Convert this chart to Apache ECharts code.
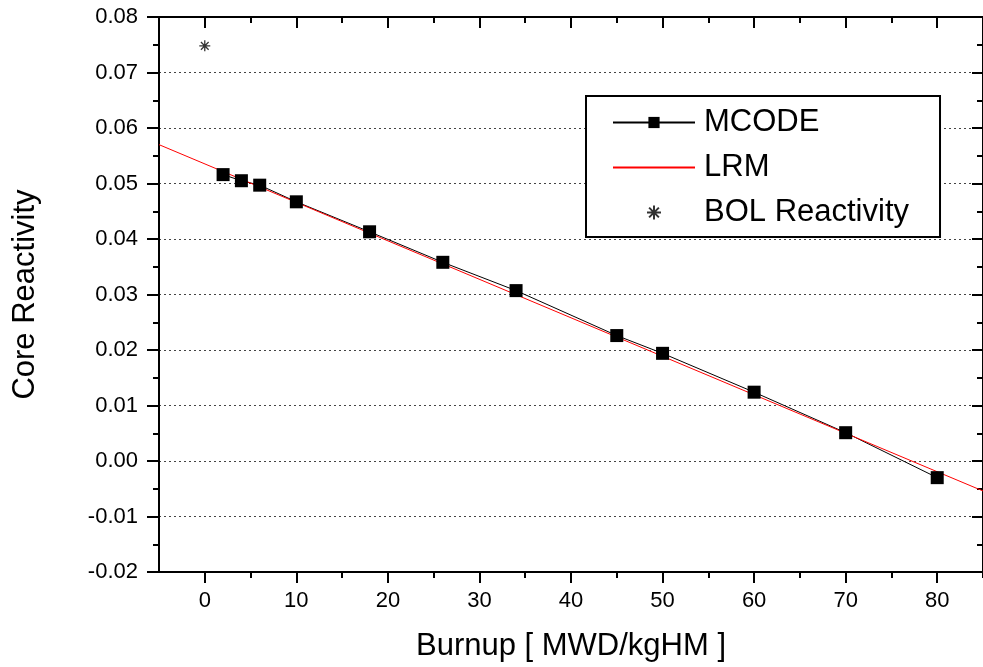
<!DOCTYPE html>
<html><head><meta charset="utf-8">
<script src="https://cdn.jsdelivr.net/npm/echarts@6/dist/echarts.min.js"></script>
<style>html,body{margin:0;padding:0;background:#fff}#c{width:983px;height:667px}</style>
</head><body><div id="c"></div>
<script>
var burnup = [2, 4, 6, 10, 18, 26, 34, 45, 50, 60, 70, 80];
var mcode = [0.0516, 0.0505, 0.0497, 0.0467, 0.0413, 0.0358, 0.0307, 0.0226, 0.0194, 0.0124, 0.0051, -0.0030];
var lrmX = [-5, 85];
var lrmY = [0.0570, -0.0054];
var bolX = [0];
var bolY = [0.0748];
var xMajor = [0, 10, 20, 30, 40, 50, 60, 70, 80];
var xMinor = [5, 15, 25, 35, 45, 55, 65, 75, 85];

var FONT = 'Arial, "Liberation Sans", sans-serif';
var chart = echarts.init(document.getElementById('c'), null, {renderer: 'canvas'});
var star = 'path://M5 0 L5 10 M0 5 L10 5 M1.5 1.5 L8.5 8.5 M1.5 8.5 L8.5 1.5';

function xAx(pos, ticks, len, inside, labels, line, name) {
  var a = {
    type: 'value', position: pos, min: -5, max: 85, interval: 5,
    axisLine: {show: line, onZero: false, lineStyle: {color: '#000', width: 2}},
    axisTick: {show: true, inside: inside, length: len, customValues: ticks, lineStyle: {color: '#000', width: 2}},
    axisLabel: {show: labels, customValues: ticks, margin: 18, color: '#000', fontSize: 22, fontFamily: FONT},
    splitLine: {show: false}
  };
  if (name) {
    a.name = name; a.nameLocation = 'middle'; a.nameGap = 59;
    a.nameTextStyle = {fontSize: 31, fontFamily: FONT, color: '#000'};
  }
  return a;
}

var option = {
  backgroundColor: '#fff',
  animation: false,
  grid: {left: 159, right: -6, top: 17, bottom: 94, containLabel: false},
  xAxis: [
    xAx('bottom', xMajor, 11, false, true, true, 'Burnup [ MWD/kgHM ]'),
    xAx('bottom', xMinor, 6, false, false, false),
    xAx('top', xMajor, 11, true, false, true),
    xAx('top', xMinor, 6, true, false, false)
  ],
  yAxis: [
    {
      type: 'value', position: 'left', min: -0.02, max: 0.08, interval: 0.01,
      name: 'Core Reactivity', nameLocation: 'middle', nameGap: 118,
      nameTextStyle: {fontSize: 31, fontFamily: FONT, color: '#000'},
      axisLine: {show: true, onZero: false, lineStyle: {color: '#000', width: 2}},
      axisTick: {show: true, length: 12, lineStyle: {color: '#000', width: 2}},
      minorTick: {show: true, splitNumber: 2, length: 6, lineStyle: {color: '#000', width: 2}},
      axisLabel: {margin: 21, color: '#000', fontSize: 22, fontFamily: FONT,
        formatter: function (v) { return v.toFixed(2); }},
      splitLine: {show: true, lineStyle: {color: '#444', width: 1, type: [2, 3]}}
    },
    {
      type: 'value', position: 'right', min: -0.02, max: 0.08, interval: 0.01,
      axisLine: {show: true, onZero: false, lineStyle: {color: '#000', width: 2}},
      axisTick: {show: true, inside: true, length: 11, lineStyle: {color: '#000', width: 2}},
      minorTick: {show: true, splitNumber: 2, length: 6, lineStyle: {color: '#000', width: 2}},
      axisLabel: {show: false},
      splitLine: {show: false}
    }
  ],
  legend: {
    orient: 'vertical', left: 586, top: 96,
    backgroundColor: '#fff', borderColor: '#000', borderWidth: 2,
    padding: [11, 31, 9, 26], itemGap: 14, itemWidth: 82, itemHeight: 14,
    textStyle: {fontSize: 31, fontFamily: FONT, color: '#000', padding: [0, 0, 0, 4]},
    data: [
      'MCODE',
      {name: 'LRM', itemStyle: {color: 'transparent', borderWidth: 0, opacity: 0}},
      'BOL Reactivity'
    ]
  },
  series: [
    {
      name: 'MCODE', type: 'line', xAxisIndex: 0, yAxisIndex: 0,
      data: burnup.map(function (x, i) { return [x, mcode[i]]; }),
      symbol: 'rect', symbolSize: 13,
      lineStyle: {color: '#000', width: 1},
      itemStyle: {color: '#000'}
    },
    {
      name: 'LRM', type: 'line', xAxisIndex: 0, yAxisIndex: 0,
      data: lrmX.map(function (x, i) { return [x, lrmY[i]]; }),
      symbol: 'none', showSymbol: false,
      lineStyle: {color: '#ff0000', width: 1},
      itemStyle: {color: '#ff0000'}
    },
    {
      name: 'BOL Reactivity', type: 'scatter', xAxisIndex: 0, yAxisIndex: 0,
      data: bolX.map(function (x, i) { return [x, bolY[i]]; }),
      symbol: star, symbolSize: 11,
      itemStyle: {color: 'none', borderColor: '#000', borderWidth: 1.3}
    }
  ]
};
chart.setOption(option);
</script>
</body></html>
